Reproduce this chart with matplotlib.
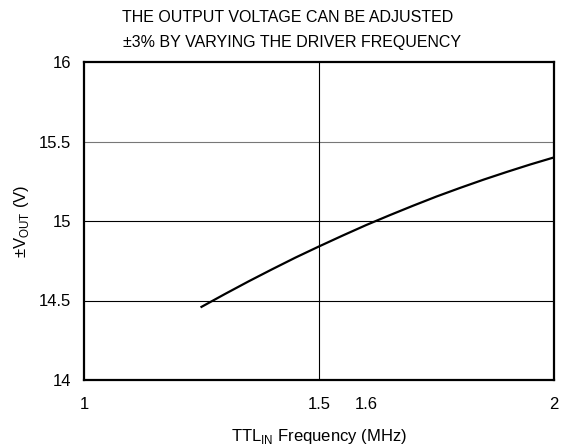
import matplotlib
matplotlib.use('Agg')
import matplotlib.pyplot as plt

plt.rcParams['font.family'] = ['Liberation Sans', 'DejaVu Sans']

# Curve
freq = [1.25, 1.30, 1.35, 1.40, 1.45, 1.50, 1.55, 1.60, 1.65, 1.70, 1.75, 1.80, 1.85, 1.90, 1.95, 2.00]
vout = [14.46, 14.541, 14.620, 14.696, 14.770, 14.840, 14.908, 14.974, 15.036, 15.096,
        15.154, 15.208, 15.260, 15.309, 15.356, 15.400]

x_ticks = [1, 1.5, 1.6, 2]
x_labels = ['1', '1.5', '1.6', '2']
y_ticks = [14, 14.5, 15, 15.5, 16]
y_labels = ['14', '14.5', '15', '15.5', '16']

fig = plt.figure(figsize=(5.69, 4.47), dpi=100)
ax = fig.add_axes([84/569, 1 - 380/447, 470/569, 318/447])

# grid lines
for y in [14.5, 15]:
    ax.axhline(y, color='black', linewidth=0.8, zorder=1)
ax.axhline(15.5, color='#777777', linewidth=0.8, zorder=1)
ax.axvline(1.5, color='black', linewidth=0.8, zorder=1)

ax.plot(freq, vout, color='black', linewidth=1.6, zorder=3)

ax.set_xlim(1, 2)
ax.set_ylim(14, 16)
ax.set_xticks(x_ticks)
ax.set_xticklabels(x_labels)
ax.set_yticks(y_ticks)
ax.set_yticklabels(y_labels)
ax.tick_params(length=0, labelsize=12, pad=12)
ax.tick_params(axis='y', pad=9)
for s in ax.spines.values():
    s.set_linewidth(1.6)

ax.set_xlabel('TTL$_{\\mathregular{IN}}$ Frequency (MHz)', fontsize=12, labelpad=11)
ax.set_ylabel('±V$_{\\mathregular{OUT}}$ (V)', fontsize=12, labelpad=6)

fig.text(288/569, 1 - 18/447, 'THE OUTPUT VOLTAGE CAN BE ADJUSTED', ha='center', va='center', fontsize=11.5)
fig.text(292/569, 1 - 42/447, '±3% BY VARYING THE DRIVER FREQUENCY', ha='center', va='center', fontsize=11.5)

fig.savefig('out.png', dpi=100)
